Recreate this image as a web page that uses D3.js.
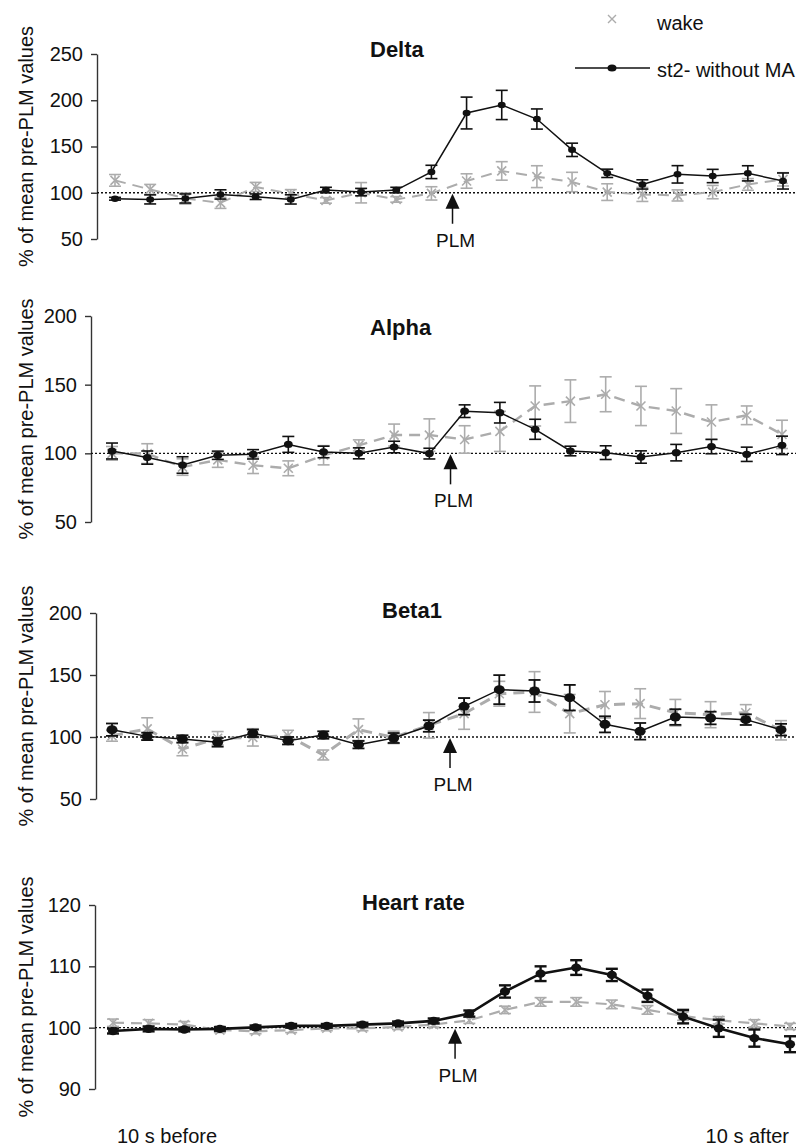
<!DOCTYPE html>
<html>
<head>
<meta charset="utf-8">
<script src="https://cdn.jsdelivr.net/npm/d3@7"></script>
<style>
  body { margin: 0; background: #fff; }
  svg { display: block; font-family: "Liberation Sans", Arial, sans-serif; }
</style>
</head>
<body>
<svg id="chart" width="796" height="1147"></svg>
<script>
// 20 one-second bins, 10 s before to 10 s after the PLM onset
let bins = [0, 1, 2, 3, 4, 5, 6, 7, 8, 9, 10, 11, 12, 13, 14, 15, 16, 17, 18, 19];
let plmBin = 9.6;
let seriesNames = ["wake", "st2- without MA"];

let deltaSt2 = [93.5, 92.8, 93.8, 98.2, 95.7, 92.8, 102.9, 100.7, 102.9, 122.5, 186.2, 194.9, 179.7, 146.4, 121, 109, 119.9, 118.1, 121, 112.7];
let deltaSt2Err = [1.5, 4.9, 4.9, 5, 3, 5, 3, 4, 3, 7.2, 17.2, 15.8, 10.9, 7.2, 4.5, 5, 9.4, 7.2, 8.2, 8.7];
let deltaWake = [113.4, 103.6, 93.8, 89.1, 106.2, 98.9, 91.7, 100, 92.8, 99.3, 112.7, 123.6, 117.4, 111.6, 100.7, 98.2, 97.1, 100.7, 109, 114.5];
let deltaWakeErr = [6.3, 5.4, 6, 6, 5, 4.5, 3, 11, 3, 7.2, 7.8, 10, 11.8, 10.5, 9, 7.6, 6, 7.2, 6.3, 7.2];

let alphaSt2 = [101.7, 96.9, 91.5, 98.6, 99.3, 106.5, 101, 100, 104.6, 99.8, 130.7, 129.6, 117.5, 101.7, 100.5, 97.3, 100.5, 104.9, 99.3, 105.8];
let alphaSt2Err = [5.8, 4.8, 6, 3, 3.4, 5.8, 4.2, 4, 4.2, 3.9, 4.6, 7.5, 7.3, 3.5, 5, 4.5, 6, 5.2, 5.2, 6.7];
let alphaWake = [100, 99.8, 90, 95.2, 91.3, 89.1, 98.6, 105.8, 113.3, 113.3, 110.1, 116, 134.5, 138, 143, 134.5, 130.8, 122.8, 127.7, 113.8];
let alphaWakeErr = [5, 7.2, 6, 5.4, 6, 5.4, 7, 4, 8, 11.8, 10, 14.6, 14.6, 15.5, 12.7, 14.3, 16.3, 12.5, 6.8, 10.3];

let betaSt2 = [105.9, 100.5, 98.4, 95.7, 103, 97, 101.6, 93.8, 99.2, 108.9, 124.7, 138.2, 137.1, 131.7, 110.2, 104.6, 116.1, 115.3, 114, 105.9];
let betaSt2Err = [5, 3, 3, 3.5, 3, 3, 3, 3, 4, 4.7, 6.7, 11.7, 8.9, 10.3, 6.5, 6.7, 6.3, 5.1, 4.3, 4.7];
let betaWake = [101, 106.5, 90.3, 99, 99.7, 101, 85.5, 105.9, 99.7, 109.4, 118.8, 134.9, 136.3, 118.8, 126, 126.9, 119.6, 118, 119.6, 105.4];
let betaWakeErr = [4.4, 9, 5.4, 5.4, 7, 4.4, 4, 8.7, 5, 10.3, 12.6, 10, 16.4, 15.5, 10.7, 12, 10.7, 10.5, 6.5, 7.8];

let hrSt2 = [99.45, 99.8, 99.7, 99.8, 100.05, 100.3, 100.3, 100.5, 100.7, 101.1, 102.3, 105.9, 108.8, 109.8, 108.6, 105.2, 101.8, 99.9, 98.3, 97.3];
let hrSt2Err = [0.4, 0.4, 0.3, 0.3, 0.3, 0.3, 0.3, 0.3, 0.3, 0.4, 0.5, 1.0, 1.2, 1.2, 1.0, 1.0, 1.1, 1.4, 1.4, 1.3];
let hrWake = [100.8, 100.7, 100.5, 99.6, 99.4, 99.6, 99.9, 99.9, 100.1, 100.5, 101.2, 102.9, 104.2, 104.2, 103.8, 102.9, 101.9, 101.2, 100.7, 100.2];
let hrWakeErr = [0.6, 0.6, 0.5, 0.4, 0.4, 0.4, 0.4, 0.4, 0.4, 0.4, 0.5, 0.6, 0.7, 0.7, 0.7, 0.7, 0.7, 0.6, 0.6, 0.5];

let deltaTicks = [50, 100, 150, 200, 250];
let alphaTicks = [50, 100, 150, 200];
let betaTicks = [50, 100, 150, 200];
let hrTicks = [90, 100, 110, 120];

// layout of the four stacked panels
let panels = [
  { title: "Delta", st2: deltaSt2, st2Err: deltaSt2Err, wake: deltaWake, wakeErr: deltaWakeErr, ticks: deltaTicks,
    axisX: 97, yTop: 54, yBot: 239, xL: 115, xR: 783, titleX: 370, titleY: 57, r: 3.6, blackW: 1.5, greyW: 2, errW: 1.6 },
  { title: "Alpha", st2: alphaSt2, st2Err: alphaSt2Err, wake: alphaWake, wakeErr: alphaWakeErr, ticks: alphaTicks,
    axisX: 91, yTop: 316, yBot: 522, xL: 112, xR: 782, titleX: 370, titleY: 335, r: 4, blackW: 1.5, greyW: 2.4, errW: 1.6 },
  { title: "Beta1", st2: betaSt2, st2Err: betaSt2Err, wake: betaWake, wakeErr: betaWakeErr, ticks: betaTicks,
    axisX: 96, yTop: 613, yBot: 799, xL: 112, xR: 781, titleX: 382, titleY: 618, r: 5, blackW: 1.5, greyW: 3, errW: 1.8 },
  { title: "Heart rate", st2: hrSt2, st2Err: hrSt2Err, wake: hrWake, wakeErr: hrWakeErr, ticks: hrTicks,
    axisX: 95, yTop: 905, yBot: 1089, xL: 113, xR: 790, titleX: 362, titleY: 910, r: 4.6, blackW: 2.6, greyW: 2.2, errW: 2.4 }
];

let svg = d3.select("#chart");
let W = 796;
let grey = "#acacac";
let black = "#111";

let drawCross = function (g, cx, cy, s, color, w) {
  g.append("path")
    .attr("d", "M" + (cx - s) + "," + (cy - s) + "L" + (cx + s) + "," + (cy + s) +
               "M" + (cx - s) + "," + (cy + s) + "L" + (cx + s) + "," + (cy - s))
    .attr("stroke", color).attr("stroke-width", w).attr("fill", "none");
};

let drawErrors = function (g, x, y, vals, errs, color, w, cap) {
  vals.forEach((v, i) => {
    let px = x(bins[i]);
    let y1 = y(v + errs[i]), y2 = y(v - errs[i]);
    g.append("line").attr("x1", px).attr("x2", px).attr("y1", y1).attr("y2", y2)
      .attr("stroke", color).attr("stroke-width", w);
    [y1, y2].forEach(yy => {
      g.append("line").attr("x1", px - cap).attr("x2", px + cap).attr("y1", yy).attr("y2", yy)
        .attr("stroke", color).attr("stroke-width", w);
    });
  });
};

panels.forEach(p => {
  let g = svg.append("g");
  let lo = p.ticks[0], hi = p.ticks[p.ticks.length - 1];
  let y = d3.scaleLinear().domain([lo, hi]).range([p.yBot, p.yTop]);
  let x = d3.scaleLinear().domain([0, 19]).range([p.xL, p.xR]);

  // y axis
  let axis = g.append("g")
    .attr("transform", "translate(" + p.axisX + ",0)")
    .call(d3.axisLeft(y).tickValues(p.ticks).tickSize(6).tickSizeOuter(0).tickPadding(8));
  axis.select(".domain").attr("stroke", "#333").attr("stroke-width", 1.4);
  axis.selectAll(".tick line").attr("stroke", "#333").attr("stroke-width", 1.4);
  axis.selectAll(".tick text").attr("font-size", 20).attr("fill", "#111")
    .attr("font-family", "Liberation Sans, Arial, sans-serif");

  // y label
  g.append("text")
    .attr("transform", "translate(33," + ((p.yTop + p.yBot) / 2) + ") rotate(-90)")
    .attr("text-anchor", "middle")
    .attr("font-size", 20).attr("fill", "#111")
    .text("% of mean pre-PLM values");

  // title
  g.append("text")
    .attr("x", p.titleX).attr("y", p.titleY)
    .attr("font-size", 22).attr("font-weight", "bold").attr("fill", "#111")
    .text(p.title);

  // 100% reference
  g.append("line")
    .attr("x1", p.axisX).attr("x2", W)
    .attr("y1", y(100)).attr("y2", y(100))
    .attr("stroke", "#111").attr("stroke-width", 1.3).attr("stroke-dasharray", "2,2");

  // PLM arrow
  let ax = x(plmBin), ay = y(100);
  g.append("path")
    .attr("d", "M" + ax + "," + (ay + 1) + "L" + (ax - 7) + "," + (ay + 16) + "L" + (ax + 7) + "," + (ay + 16) + "Z")
    .attr("fill", "#111");
  g.append("line")
    .attr("x1", ax).attr("x2", ax).attr("y1", ay + 15).attr("y2", ay + 31)
    .attr("stroke", "#111").attr("stroke-width", 1.5);
  g.append("text")
    .attr("x", ax + 3).attr("y", ay + 54)
    .attr("text-anchor", "middle").attr("font-size", 19).attr("fill", "#111")
    .text("PLM");

  // wake (grey, dashed, crosses)
  drawErrors(g, x, y, p.wake, p.wakeErr, grey, 1.6, 6);
  g.append("path")
    .datum(p.wake)
    .attr("d", d3.line().x((d, i) => x(bins[i])).y(d => y(d)))
    .attr("fill", "none").attr("stroke", grey)
    .attr("stroke-width", p.greyW).attr("stroke-dasharray", "11,7");
  p.wake.forEach((v, i) => drawCross(g, x(bins[i]), y(v), 4.5, grey, 1.6));

  // st2 without MA (black, solid, dots)
  drawErrors(g, x, y, p.st2, p.st2Err, black, p.errW, 6);
  g.append("path")
    .datum(p.st2)
    .attr("d", d3.line().x((d, i) => x(bins[i])).y(d => y(d)))
    .attr("fill", "none").attr("stroke", black).attr("stroke-width", p.blackW);
  g.selectAll(".dot")
    .data(p.st2)
    .enter().append("ellipse")
    .attr("cx", (d, i) => x(bins[i])).attr("cy", d => y(d))
    .attr("rx", p.r * 1.1).attr("ry", p.r * 0.9)
    .attr("fill", black);
});

// legend (top right)
let leg = svg.append("g");
drawCross(leg, 612, 19, 4, grey, 1.4);
leg.append("text").attr("x", 657).attr("y", 30).attr("font-size", 20).attr("fill", "#111").text(seriesNames[0]);
leg.append("line").attr("x1", 575).attr("x2", 650).attr("y1", 68).attr("y2", 68)
  .attr("stroke", black).attr("stroke-width", 1.5);
leg.append("ellipse").attr("cx", 612).attr("cy", 68).attr("rx", 4.5).attr("ry", 3.5).attr("fill", black);
leg.append("text").attr("x", 657).attr("y", 77).attr("font-size", 20).attr("fill", "#111").text(seriesNames[1]);

// time labels
svg.append("text").attr("x", 117).attr("y", 1143).attr("font-size", 20).attr("fill", "#111").text("10 s before");
svg.append("text").attr("x", 789).attr("y", 1143).attr("text-anchor", "end").attr("font-size", 20).attr("fill", "#111").text("10 s after");
</script>
</body>
</html>
